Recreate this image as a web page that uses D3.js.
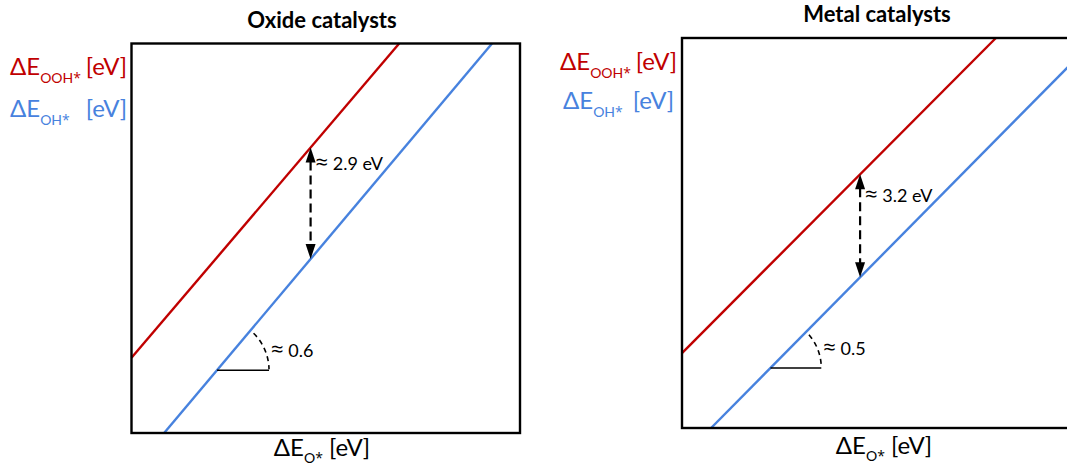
<!DOCTYPE html>
<html>
<head>
<meta charset="utf-8">
<script src="https://cdn.jsdelivr.net/npm/d3@7"></script>
<style>
  html, body { margin: 0; padding: 0; background: #fff; }
  svg { display: block; font-family: Lato, "Open Sans", "DejaVu Sans", sans-serif; }
  .alt { font-family: "Open Sans", "Noto Sans", sans-serif; }
</style>
</head>
<body>
<svg id="chart" width="1067" height="469"></svg>
<script>
// ---------------- data (data units 0..10) ----------------
const panelTitles = ["Oxide catalysts", "Metal catalysts"];
// ΔE_OOH* scaling line (red): two end points [ΔE_O*, ΔE_OOH*]
const oohLines = [
  [[0, 1.93], [6.89, 10]],
  [[0, 1.92], [8.09, 10]]
];
// ΔE_OH* scaling line (blue): two end points [ΔE_O*, ΔE_OH*]
const ohLines = [
  [[0.84, 0], [9.28, 10]],
  [[0.75, 0], [10, 9.31]]
];
const gapValues = ["2.9 eV", "3.2 eV"];
const gapAtX = [4.61, 4.59];
const slopeValues = ["0.6", "0.5"];
const slopeStartX = [2.2, 2.28];
const slopeRun = [1.34, 1.31];
const yLabelSubs = ["OOH", "OH"];
const xLabelSub = "O";
const unitText = "[eV]";

// ---------------- layout ----------------
const boxes = [
  { x0: 131.5, x1: 520, y0: 43.5, y1: 433, titleX: 322, titleY: 28,
    redLab: { x: 10, y: 75, endX: 127 }, blueLab: { x: 10, y: 117, endX: 127 },
    xLab: { cx: 322, y: 456 }, gapDy: 22 },
  { x0: 682, x1: 1070, y0: 38, y1: 428, titleX: 877, titleY: 22,
    redLab: { x: 560, y: 70, endX: 677 }, blueLab: { x: 563, y: 109, endX: 674 },
    xLab: { cx: 884, y: 454 }, gapDy: 28 }
];
const RED = "#C00000";
const BLUE = "#4782DE";

const svg = d3.select("#chart");

function lineY(seg, x) {
  const [[ax, ay], [bx, by]] = seg;
  return ay + (by - ay) * (x - ax) / (bx - ax);
}

function approxText(g, x, y, value) {
  const t = g.append("text").attr("x", x).attr("y", y)
    .attr("font-size", 18).attr("fill", "#000");
  t.append("tspan").attr("class", "alt").attr("font-size", 22).text("≈");
  t.append("tspan").text(" " + value);
  return t;
}

boxes.forEach((b, i) => {
  const xs = d3.scaleLinear().domain([0, 10]).range([b.x0, b.x1]);
  const ys = d3.scaleLinear().domain([0, 10]).range([b.y1, b.y0]);
  const g = svg.append("g");
  const line = d3.line().x(d => xs(d[0])).y(d => ys(d[1]));

  // title
  g.append("text").attr("x", b.titleX).attr("y", b.titleY)
    .attr("text-anchor", "middle").attr("font-weight", 700)
    .attr("font-size", 22).attr("fill", "#000").text(panelTitles[i]);

  // scaling lines
  g.append("path").attr("d", line(oohLines[i])).attr("stroke", RED)
    .attr("stroke-width", 2.4).attr("fill", "none");
  g.append("path").attr("d", line(ohLines[i])).attr("stroke", BLUE)
    .attr("stroke-width", 2.4).attr("fill", "none");

  // gap arrow
  const ax = xs(gapAtX[i]);
  const yTop = ys(lineY(oohLines[i], gapAtX[i]));
  const yBot = ys(lineY(ohLines[i], gapAtX[i]));
  const headL = 15, headW = 5;
  g.append("line").attr("x1", ax).attr("x2", ax)
    .attr("y1", yTop + headL - 1).attr("y2", yBot - headL + 1)
    .attr("stroke", "#000").attr("stroke-width", 2.2)
    .attr("stroke-dasharray", "9,5");
  g.append("path").attr("d",
    `M${ax},${yTop}L${ax - headW},${yTop + headL}L${ax + headW},${yTop + headL}Z`).attr("fill", "#000");
  g.append("path").attr("d",
    `M${ax},${yBot}L${ax - headW},${yBot - headL}L${ax + headW},${yBot - headL}Z`).attr("fill", "#000");
  approxText(g, ax + 5, yTop + b.gapDy, gapValues[i]);

  // slope annotation
  const sx0 = xs(slopeStartX[i]);
  const sy0 = ys(lineY(ohLines[i], slopeStartX[i]));
  const sx1 = xs(slopeStartX[i] + slopeRun[i]);
  g.append("line").attr("x1", sx0).attr("x2", sx1).attr("y1", sy0).attr("y2", sy0)
    .attr("stroke", "#000").attr("stroke-width", 1.6);
  const seg = ohLines[i];
  const pdx = xs(seg[1][0]) - xs(seg[0][0]);
  const pdy = ys(seg[1][1]) - ys(seg[0][1]);
  const theta = Math.atan2(pdy, pdx);
  const r = sx1 - sx0;
  const p = d3.path();
  const a0 = theta + 0.08, a1 = -0.02;
  p.moveTo(sx0 + r * Math.cos(a0), sy0 + r * Math.sin(a0));
  p.arc(sx0, sy0, r, a0, a1, false);
  g.append("path").attr("d", p.toString()).attr("fill", "none")
    .attr("stroke", "#000").attr("stroke-width", 1.6).attr("stroke-dasharray", "5,4");
  approxText(g, sx1 + 2, sy0 - 13, slopeValues[i]);

  // box
  g.append("rect").attr("x", b.x0).attr("y", b.y0)
    .attr("width", b.x1 - b.x0).attr("height", b.y1 - b.y0)
    .attr("fill", "none").attr("stroke", "#000").attr("stroke-width", 2.4);

  // y labels
  const labs = [[b.redLab, RED, yLabelSubs[0]], [b.blueLab, BLUE, yLabelSubs[1]]];
  labs.forEach(([L, col, sub]) => {
    const t = g.append("text").attr("x", L.x).attr("y", L.y).attr("fill", col).attr("font-size", 24);
    t.append("tspan").text("ΔE");
    t.append("tspan").attr("dy", 8).attr("font-size", 14).text(sub);
    t.append("tspan").attr("class", "alt").attr("font-size", 14).text("*");
    g.append("text").attr("x", L.endX).attr("y", L.y).attr("text-anchor", "end")
      .attr("fill", col).attr("font-size", 24).text(unitText);
  });

  // x label
  const xt = g.append("text").attr("x", b.xLab.cx).attr("y", b.xLab.y)
    .attr("text-anchor", "middle").attr("fill", "#000").attr("font-size", 24);
  xt.append("tspan").text("ΔE");
  xt.append("tspan").attr("dy", 7).attr("font-size", 14).text(xLabelSub);
  xt.append("tspan").attr("class", "alt").attr("font-size", 14).text("*");
  xt.append("tspan").attr("dy", -7).text(" " + unitText);
});
</script>
</body>
</html>
